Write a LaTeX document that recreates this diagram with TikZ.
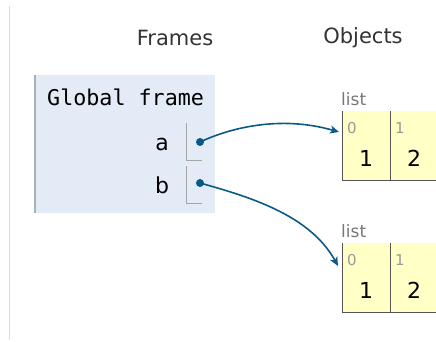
\documentclass[tikz,border=0pt]{standalone}
\usepackage{fontspec}
\setmainfont{DejaVu Sans}
\setmonofont{DejaVu Sans Mono}
\usepackage{tikz}
\usetikzlibrary{arrows.meta, calc, positioning}
\definecolor{framebg}{HTML}{E2EBF6}
\definecolor{frameedge}{HTML}{A6B3B6}
\definecolor{heapbg}{HTML}{FFFFC6}
\definecolor{heapedge}{HTML}{555555}
\definecolor{pointer}{HTML}{0B5A86}
\definecolor{headtext}{HTML}{333333}
\definecolor{labeltext}{HTML}{777777}
\definecolor{idxtext}{HTML}{999999}
\definecolor{rule}{HTML}{DDDDDD}
\tikzset{
    heading/.style={text=headtext, font=\fontsize{21}{25}\selectfont, inner sep=0pt},
    varname/.style={font=\fontsize{22}{26}\selectfont, inner sep=0pt},
    cellbox/.style={fill=heapbg, minimum width=48pt, minimum height=69pt, inner sep=0pt},
    idx/.style={text=idxtext, font=\fontsize{15}{18}\selectfont, inner sep=0pt},
    val/.style={font=\fontsize{22}{26}\selectfont, inner sep=0pt},
    ptrdot/.style={circle, fill=pointer, minimum size=8pt, inner sep=0pt},
    ptr/.style={draw=pointer, line width=1.6pt, -{Stealth[length=9pt, width=8pt, inset=2.5pt]}}
}

\begin{document}
\begin{tikzpicture}[x=1pt, y=-1pt]
    \useasboundingbox (0,0) rectangle (436,341);
    \clip (0,0) rectangle (436,341);
    % left rule
    \draw[rule, line width=1.5pt] (9.5,6) -- (9.5,340);

    % Headings
    \node[heading] (frameHdr) at (175,38) {Frames};
    \node[heading] (objHdr) at (363,38) {Objects};

    % Global frame
    \node[fill=framebg, minimum width=180pt, minimum height=138pt, inner sep=0pt] (gframe) at (125,144) {};
    \draw[frameedge, line width=2pt] (gframe.north west) -- (gframe.south west);
    \node[anchor=west, font=\ttfamily\fontsize{21.7}{25}\selectfont, inner sep=0pt] (gtitle) at (47,97) {Global frame};

    \node[varname] (varA) at (162,144) {a};
    \node[varname] (varB) at (162,185) {b};
    \draw[gray!70, line width=1pt] (186,123) -- (186,160) -- (202,160);
    \draw[gray!70, line width=1pt] (186,166) -- (186,203) -- (202,203);
    \node[ptrdot] (dotA) at (200,142) {};
    \node[ptrdot] (dotB) at (200,183) {};

    % Objects
    \node[text=labeltext, font=\fontsize{17}{20}\selectfont, anchor=south west, inner sep=0pt] (listA) at (341,106) {list};
    \node[cellbox, anchor=north west] (aZero) at (342,111) {};
    \node[cellbox, anchor=north west] (aOne) at (390,111) {};
    \node[text=labeltext, font=\fontsize{17}{20}\selectfont, anchor=south west, inner sep=0pt] (listB) at (341,238) {list};
    \node[cellbox, anchor=north west] (bZero) at (342,243) {};
    \node[cellbox, anchor=north west] (bOne) at (390,243) {};
    \foreach \c in {aZero, aOne, bZero, bOne}
        \draw[heapedge, line width=1pt] (\c.north west) -- (\c.south west) -- (\c.south east);

    \node[idx] at ($(aZero.north west)+(10,17)$) {0};
    \node[idx] at ($(aOne.north west)+(10,17)$) {1};
    \node[idx] at ($(bZero.north west)+(10,17)$) {0};
    \node[idx] at ($(bOne.north west)+(10,17)$) {1};
    \node[val] at ($(aZero.north west)+(24,47)$) {1};
    \node[val] at ($(aOne.north west)+(24,47)$) {2};
    \node[val] at ($(bZero.north west)+(24,47)$) {1};
    \node[val] at ($(bOne.north west)+(24,47)$) {2};

    % Pointers
    \coordinate (tipA) at (339,132);
    \coordinate (tipB) at (338,266);
    \draw[ptr] (dotA.center) .. controls (230,128) and (280,115) .. (tipA);
    \draw[ptr] (dotB.center) .. controls (250,197) and (310,215) .. (tipB);
\end{tikzpicture}
\end{document}
